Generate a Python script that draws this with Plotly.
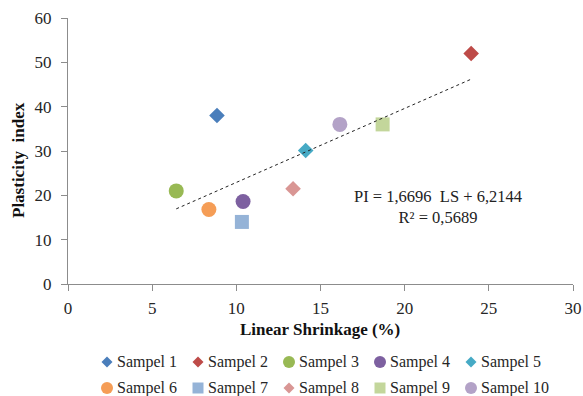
import plotly.graph_objects as go

names = ["Sampel 1", "Sampel 2", "Sampel 3", "Sampel 4", "Sampel 5",
         "Sampel 6", "Sampel 7", "Sampel 8", "Sampel 9", "Sampel 10"]
linear_shrinkage = [8.85, 23.95, 6.43, 10.4, 14.12, 8.37, 10.33, 13.37, 18.69, 16.15]
plasticity_index = [38.0, 52.0, 21.0, 18.6, 30.1, 16.8, 14.0, 21.5, 36.0, 36.0]
symbols = ["diamond", "diamond", "circle", "circle", "diamond",
           "circle", "square", "diamond", "square", "circle"]
colors = ["#4A7EBB", "#BE4B48", "#98B954", "#7D60A0", "#46AAC5",
          "#F59D56", "#95B3D7", "#D99694", "#C3D69B", "#B3A2C7"]
sizes = [12, 12, 15, 15, 12, 15, 14, 12, 14, 15]

slope = 1.6696
intercept = 6.2144

FONT = "Liberation Serif"
W, H = 583, 396
L, R, T, B = 68, 10, 18, 112
PW, PH = W - L - R, H - T - B


def px_x(p):
    return (p - L) / PW


def px_y(p):
    return (H - B - p) / PH


fig = go.Figure()
for n, x, y, s, c, sz in zip(names, linear_shrinkage, plasticity_index, symbols, colors, sizes):
    fig.add_trace(go.Scatter(x=[x], y=[y], mode="markers", name=n, showlegend=False,
                             marker=dict(symbol=s, color=c, size=sz, line=dict(width=0))))

x0, x1 = min(linear_shrinkage), max(linear_shrinkage)
fig.add_trace(go.Scatter(x=[x0, x1], y=[slope * x0 + intercept, slope * x1 + intercept],
                         mode="lines", line=dict(color="#222222", width=1, dash="dot"),
                         showlegend=False, hoverinfo="skip"))

fig.add_annotation(text="PI = 1,6696  LS + 6,2144<br>R² = 0,5689",
                   xref="paper", yref="paper", x=px_x(438), y=px_y(207),
                   xanchor="center", yanchor="middle", showarrow=False,
                   font=dict(family=FONT, size=16.5, color="#222222"))
fig.add_annotation(text="<b>Linear Shrinkage (%)</b>",
                   xref="paper", yref="paper", x=px_x(320), y=px_y(329),
                   xanchor="center", yanchor="middle", showarrow=False,
                   font=dict(family=FONT, size=17, color="#111111"))
fig.add_annotation(text="<b>Plasticity  index</b>", textangle=-90,
                   xref="paper", yref="paper", x=px_x(18), y=px_y(160),
                   xanchor="center", yanchor="middle", showarrow=False,
                   font=dict(family=FONT, size=17, color="#111111"))

# legend: swatch shape + name, two rows of five
for i, (n, s, c) in enumerate(zip(names, symbols, colors)):
    row, col = divmod(i, 5)
    cx, cy = 107 + 91 * col, 362 + 26 * row
    if s == "circle":
        r = 6
        fig.add_shape(type="circle", xref="paper", yref="paper",
                      x0=px_x(cx - r), x1=px_x(cx + r), y0=px_y(cy + r), y1=px_y(cy - r),
                      fillcolor=c, line=dict(width=0))
    elif s == "square":
        r = 5.5
        fig.add_shape(type="rect", xref="paper", yref="paper",
                      x0=px_x(cx - r), x1=px_x(cx + r), y0=px_y(cy + r), y1=px_y(cy - r),
                      fillcolor=c, line=dict(width=0))
    else:
        r = 5.5
        path = (f"M {px_x(cx - r)},{px_y(cy)} L {px_x(cx)},{px_y(cy - r)} "
                f"L {px_x(cx + r)},{px_y(cy)} L {px_x(cx)},{px_y(cy + r)} Z")
        fig.add_shape(type="path", xref="paper", yref="paper", path=path,
                      fillcolor=c, line=dict(width=0))
    fig.add_annotation(text=n, xref="paper", yref="paper",
                       x=px_x(cx + 8), y=px_y(cy), xanchor="left", yanchor="middle",
                       showarrow=False, font=dict(family=FONT, size=16, color="#262626"))

fig.update_layout(
    width=W, height=H,
    margin=dict(l=L, r=R, t=T, b=B, autoexpand=False),
    paper_bgcolor="white", plot_bgcolor="white",
    font=dict(family=FONT, size=17, color="#262626"),
    showlegend=False,
    xaxis=dict(range=[0, 30], dtick=5, showgrid=False, zeroline=False,
               showline=True, linecolor="#8c8c8c", linewidth=1,
               ticks="outside", ticklen=6, tickcolor="#8c8c8c", ticklabelstandoff=3,
               tickfont=dict(family=FONT, size=17, color="#262626")),
    yaxis=dict(range=[0, 60], dtick=10, showgrid=False, zeroline=False,
               showline=True, linecolor="#8c8c8c", linewidth=1,
               ticks="outside", ticklen=6, tickcolor="#8c8c8c", ticklabelstandoff=6,
               tickfont=dict(family=FONT, size=17, color="#262626")),
)

fig.write_html("out.html", config={"displayModeBar": False},
               post_script="document.body.style.margin='0px';")
